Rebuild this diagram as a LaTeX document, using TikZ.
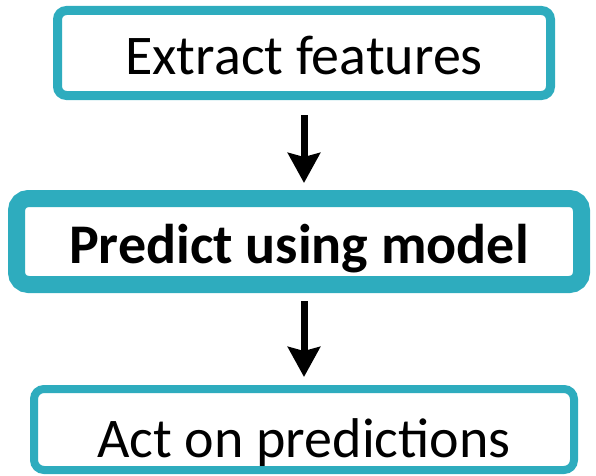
\documentclass[tikz,border=0pt]{standalone}
\usepackage{fontspec}
\setmainfont{Carlito}
\usetikzlibrary{calc,positioning,arrows.meta}

\definecolor{boxteal}{RGB}{46,172,190}

\begin{document}
\begin{tikzpicture}[x=1pt,y=1pt,inner sep=0pt,
  box/.style={draw=boxteal, fill=white, rectangle, font=\fontsize{56}{66}\selectfont},
  flow/.style={draw=black, line width=7pt, -{Stealth[length=30pt,width=32pt,inset=4pt]}}]

\useasboundingbox (0,0) rectangle (596,475);

\coordinate (F) at (304,422);
\coordinate (P) at (299,233.5);
\coordinate (R) at (304,45.5);

\node (feat) at (F) [box, line width=9pt, rounded corners=9pt,
  minimum width=493pt, minimum height=85pt,
  text height=44pt, text depth=0pt] {Extract features};
\node (pred) at (P) [box, line width=17pt, rounded corners=12pt,
  minimum width=565pt, minimum height=86pt,
  text height=50pt, text depth=7pt] {\bfseries Predict using model};
\node (act) at (R) [box, line width=8pt, rounded corners=10pt,
  minimum width=540pt, minimum height=81pt,
  text height=60pt, text depth=5pt] {Act on predictions};

\draw[flow, shorten <=15pt, shorten >=7pt] (feat.south) to (feat.south |- pred.north);
\draw[flow, shorten <=8pt, shorten >=8pt] (feat.south |- pred.south) to (feat.south |- act.north);

\end{tikzpicture}
\end{document}
